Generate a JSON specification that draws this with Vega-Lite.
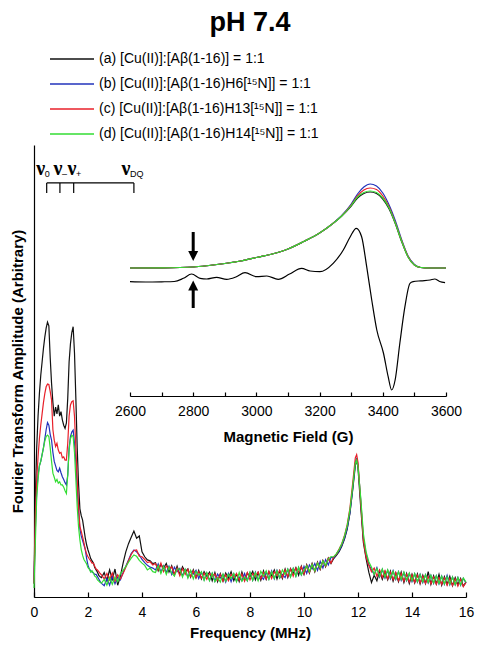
{
  "$schema": "https://vega.github.io/schema/vega-lite/v6.json",
  "width": 432,
  "height": 452,
  "autosize": "none",
  "padding": {"left": 34, "top": 145, "right": 14, "bottom": 55},
  "title": {"text": "pH 7.4", "fontSize": 27, "fontWeight": "bold", "font": "Liberation Sans", "anchor": "middle", "frame": "group", "offset": 15, "color": "black"},
  "config": {
    "font": "Liberation Sans",
    "view": {"stroke": null},
    "axis": {"domainColor": "black", "tickColor": "black", "labelColor": "black", "titleColor": "black", "grid": false, "labelFontSize": 14, "titleFontSize": 15, "titleFontWeight": "bold", "domainWidth": 1.2, "tickWidth": 1.2},
    "legend": {"orient": "none", "legendX": 14, "legendY": -93, "title": null, "symbolType": "M-1,0H7.8", "symbolSize": 100, "symbolStrokeWidth": 1.6, "labelFontSize": 14, "labelOffset": 37, "rowPadding": 11, "labelLimit": 400, "labelColor": "black"}
  },
  "datasets": {
    "spectra": [
      {"f":0,"a":3,"b":3,"c":3,"d":2},
      {"f":0.05,"a":22,"b":15,"c":18,"d":12},
      {"f":0.1,"a":33,"b":23,"c":26,"d":22},
      {"f":0.15,"a":40,"b":27,"c":31,"d":26},
      {"f":0.2,"a":45,"b":29,"c":35,"d":29},
      {"f":0.25,"a":49,"b":30,"c":38,"d":30},
      {"f":0.3,"a":52,"b":31.5,"c":40.5,"d":31.5},
      {"f":0.35,"a":55,"b":33,"c":43,"d":33},
      {"f":0.4,"a":57.5,"b":35,"c":45,"d":34.5},
      {"f":0.45,"a":59.5,"b":37,"c":46.5,"d":35.5},
      {"f":0.5,"a":60.8,"b":38.6,"c":47.1,"d":35.8},
      {"f":0.55,"a":60,"b":38,"c":47,"d":35.5},
      {"f":0.6,"a":53,"b":36,"c":45.5,"d":33},
      {"f":0.65,"a":47.3,"b":34.7,"c":43.6,"d":30},
      {"f":0.7,"a":43,"b":32,"c":37,"d":27.4},
      {"f":0.75,"a":40,"b":30,"c":34.7,"d":26.5},
      {"f":0.8,"a":42,"b":29,"c":33.3,"d":25.5},
      {"f":0.85,"a":40.5,"b":28,"c":34,"d":26},
      {"f":0.9,"a":42.5,"b":27.7,"c":32.5,"d":25.2},
      {"f":0.95,"a":40,"b":28.5,"c":31.8,"d":25.5},
      {"f":1.0,"a":41,"b":27.5,"c":32,"d":24.8},
      {"f":1.05,"a":39.2,"b":26.6,"c":30.8,"d":24.8},
      {"f":1.1,"a":38,"b":26,"c":31,"d":24.3},
      {"f":1.15,"a":37.3,"b":25.3,"c":30.3,"d":23.5},
      {"f":1.2,"a":38.5,"b":24.8,"c":30.3,"d":22.9},
      {"f":1.25,"a":44,"b":27,"c":34,"d":27},
      {"f":1.3,"a":52,"b":33,"c":40,"d":32.5},
      {"f":1.35,"a":56,"b":35.5,"c":42.5,"d":35},
      {"f":1.4,"a":58.5,"b":36.5,"c":43.2,"d":35.8},
      {"f":1.45,"a":59.8,"b":36.9,"c":43.4,"d":35.5},
      {"f":1.5,"a":54,"b":34,"c":40,"d":32},
      {"f":1.55,"a":44,"b":30,"c":33,"d":26},
      {"f":1.6,"a":33,"b":24,"c":26,"d":20},
      {"f":1.65,"a":25,"b":19,"c":20,"d":15.5},
      {"f":1.7,"a":19.5,"b":15,"c":15.6,"d":12.6},
      {"f":1.75,"a":18,"b":13.5,"c":14.5,"d":10.5},
      {"f":1.8,"a":17,"b":12.5,"c":13.3,"d":9.2},
      {"f":1.85,"a":15,"b":11.5,"c":12,"d":8.3},
      {"f":1.9,"a":13,"b":10.5,"c":10.5,"d":7.8},
      {"f":1.95,"a":11.5,"b":8.5,"c":9.5,"d":7.3},
      {"f":2.0,"a":10.4,"b":7,"c":8.9,"d":6.5},
      {"f":2.05,"a":9.5,"b":6.2,"c":8.4,"d":6.2},
      {"f":2.1,"a":8.5,"b":5.8,"c":8,"d":5.5},
      {"f":2.15,"a":8,"b":5.5,"c":7.5,"d":5.8},
      {"f":2.2,"a":7.5,"b":5.3,"c":7.5,"d":5.3},
      {"f":2.25,"a":6.5,"b":5,"c":6.8,"d":4.6},
      {"f":2.3,"a":6,"b":5,"c":6.2,"d":4.4},
      {"f":2.35,"a":5.5,"b":4.5,"c":6,"d":3.8},
      {"f":2.4,"a":4.8,"b":4,"c":5.6,"d":3.5},
      {"f":2.45,"a":4.5,"b":3.4,"c":5.2,"d":3.2},
      {"f":2.5,"a":4.3,"b":3,"c":4.9,"d":3.1},
      {"f":2.6,"a":5.4,"b":2.5,"c":4.0,"d":3.9},
      {"f":2.7,"a":3.6,"b":4.1,"c":5.2,"d":2.6},
      {"f":2.8,"a":6.0,"b":2.6,"c":3.8,"d":4.3},
      {"f":2.9,"a":3.9,"b":4.6,"c":5.3,"d":2.8},
      {"f":3.0,"a":6.2,"b":2.9,"c":3.5,"d":4.4},
      {"f":3.1,"a":2.6,"b":4.4,"c":4.9,"d":3.4},
      {"f":3.2,"a":4.6,"b":3.8,"c":4.0,"d":5.2},
      {"f":3.3,"a":7.5,"b":5.4,"c":5.2,"d":5.9},
      {"f":3.4,"a":10.0,"b":6.8,"c":6.6,"d":6.7},
      {"f":3.5,"a":11.8,"b":8.2,"c":8.0,"d":7.7},
      {"f":3.6,"a":13.2,"b":9.6,"c":9.4,"d":8.6},
      {"f":3.7,"a":14.6,"b":10.4,"c":10.3,"d":9.3},
      {"f":3.8,"a":13.0,"b":10.0,"c":10.4,"d":9.0},
      {"f":3.9,"a":13.5,"b":9.3,"c":9.0,"d":8.1},
      {"f":4.0,"a":10.0,"b":8.3,"c":8.9,"d":7.5},
      {"f":4.1,"a":8.9,"b":7.6,"c":8.3,"d":7.0},
      {"f":4.2,"a":8.2,"b":7.0,"c":7.6,"d":6.0},
      {"f":4.3,"a":8.0,"b":6.6,"c":7.8,"d":6.4},
      {"f":4.4,"a":7.4,"b":6.4,"c":7.1,"d":5.6},
      {"f":4.5,"a":7.6,"b":6.0,"c":7.4,"d":5.4},
      {"f":4.6,"a":5.8,"b":7.3,"c":6.0,"d":6.9},
      {"f":4.7,"a":7.2,"b":5.5,"c":7.5,"d":5.2},
      {"f":4.8,"a":6.4,"b":6.9,"c":5.6,"d":6.8},
      {"f":4.9,"a":7.4,"b":5.4,"c":6.9,"d":5.0},
      {"f":5.0,"a":5.5,"b":6.8,"c":6.1,"d":6.6},
      {"f":5.1,"a":6.9,"b":5.0,"c":6.7,"d":5.3},
      {"f":5.2,"a":4.9,"b":6.6,"c":5.1,"d":4.6},
      {"f":5.3,"a":6.8,"b":5.6,"c":6.4,"d":6.2},
      {"f":5.4,"a":5.0,"b":6.3,"c":4.7,"d":6.2},
      {"f":5.5,"a":6.7,"b":4.7,"c":6.3,"d":4.4},
      {"f":5.6,"a":5.6,"b":6.0,"c":5.0,"d":6.1},
      {"f":5.7,"a":6.2,"b":4.4,"c":6.1,"d":4.2},
      {"f":5.8,"a":4.4,"b":5.8,"c":4.5,"d":5.9},
      {"f":5.9,"a":6.0,"b":5.1,"c":5.8,"d":4.0},
      {"f":6.0,"a":4.2,"b":5.9,"c":4.3,"d":5.7},
      {"f":6.1,"a":5.9,"b":4.1,"c":5.6,"d":4.8},
      {"f":6.2,"a":4.0,"b":5.5,"c":4.2,"d":5.6},
      {"f":6.3,"a":5.6,"b":3.8,"c":5.3,"d":3.7},
      {"f":6.4,"a":4.6,"b":5.3,"c":3.9,"d":5.4},
      {"f":6.5,"a":5.5,"b":3.7,"c":5.2,"d":3.6},
      {"f":6.6,"a":3.6,"b":5.2,"c":4.6,"d":5.3},
      {"f":6.7,"a":5.4,"b":3.5,"c":5.1,"d":3.4},
      {"f":6.8,"a":3.4,"b":5.1,"c":3.7,"d":4.3},
      {"f":6.9,"a":5.2,"b":4.2,"c":5.0,"d":3.3},
      {"f":7.0,"a":3.5,"b":5.0,"c":3.5,"d":5.1},
      {"f":7.1,"a":5.3,"b":3.3,"c":4.9,"d":3.5},
      {"f":7.2,"a":4.2,"b":5.2,"c":3.6,"d":5.0},
      {"f":7.3,"a":5.6,"b":3.4,"c":5.0,"d":4.1},
      {"f":7.4,"a":3.6,"b":5.1,"c":4.3,"d":5.2},
      {"f":7.5,"a":5.1,"b":3.5,"c":5.2,"d":3.4},
      {"f":7.6,"a":3.4,"b":4.4,"c":3.7,"d":5.4},
      {"f":7.7,"a":5.5,"b":3.6,"c":5.1,"d":3.5},
      {"f":7.8,"a":3.7,"b":5.2,"c":3.5,"d":4.4},
      {"f":7.9,"a":5.3,"b":3.6,"c":5.4,"d":3.6},
      {"f":8.0,"a":4.5,"b":5.4,"c":3.8,"d":5.5},
      {"f":8.1,"a":5.7,"b":3.7,"c":5.2,"d":3.7},
      {"f":8.2,"a":3.8,"b":5.5,"c":4.6,"d":5.4},
      {"f":8.3,"a":5.4,"b":3.8,"c":5.5,"d":3.6},
      {"f":8.4,"a":3.7,"b":4.6,"c":4.0,"d":5.7},
      {"f":8.5,"a":5.8,"b":3.9,"c":5.4,"d":4.6},
      {"f":8.6,"a":3.9,"b":5.5,"c":4.0,"d":5.8},
      {"f":8.7,"a":5.6,"b":4.0,"c":5.7,"d":3.9},
      {"f":8.8,"a":4.7,"b":5.8,"c":4.1,"d":5.6},
      {"f":8.9,"a":6.0,"b":4.0,"c":5.6,"d":4.1},
      {"f":9.0,"a":4.0,"b":5.9,"c":4.8,"d":5.8},
      {"f":9.1,"a":5.8,"b":4.2,"c":5.9,"d":4.2},
      {"f":9.2,"a":4.1,"b":5.0,"c":4.3,"d":6.0},
      {"f":9.3,"a":6.2,"b":4.3,"c":6.0,"d":5.0},
      {"f":9.4,"a":4.3,"b":6.1,"c":4.5,"d":6.2},
      {"f":9.5,"a":6.3,"b":4.5,"c":6.2,"d":4.4},
      {"f":9.6,"a":5.2,"b":6.3,"c":4.6,"d":6.3},
      {"f":9.7,"a":6.5,"b":4.6,"c":6.4,"d":4.6},
      {"f":9.8,"a":4.8,"b":6.5,"c":5.5,"d":6.6},
      {"f":9.9,"a":6.8,"b":4.9,"c":6.7,"d":4.9},
      {"f":10.0,"a":5.0,"b":6.8,"c":5.1,"d":5.9},
      {"f":10.1,"a":7.1,"b":5.2,"c":7.0,"d":6.9},
      {"f":10.2,"a":5.3,"b":7.1,"c":5.4,"d":5.6},
      {"f":10.3,"a":7.4,"b":6.2,"c":7.3,"d":7.2},
      {"f":10.4,"a":5.6,"b":7.4,"c":5.7,"d":5.8},
      {"f":10.5,"a":7.7,"b":5.9,"c":7.6,"d":7.5},
      {"f":10.6,"a":6.1,"b":7.9,"c":6.2,"d":6.4},
      {"f":10.7,"a":8.1,"b":6.4,"c":8.0,"d":8.0},
      {"f":10.8,"a":6.7,"b":8.3,"c":6.8,"d":7.0},
      {"f":10.9,"a":8.6,"b":7.1,"c":8.6,"d":8.4},
      {"f":11.0,"a":7.4,"b":8.8,"c":7.5,"d":8.9},
      {"f":11.1,"a":8.5,"b":8.6,"c":8.9,"d":8.9},
      {"f":11.2,"a":9.2,"b":9.4,"c":9.5,"d":9.6},
      {"f":11.3,"a":10.0,"b":10.2,"c":10.6,"d":10.5},
      {"f":11.4,"a":11.2,"b":11.4,"c":11.8,"d":11.8},
      {"f":11.5,"a":12.8,"b":13.0,"c":13.6,"d":13.5},
      {"f":11.6,"a":15.0,"b":15.2,"c":16.0,"d":15.8},
      {"f":11.7,"a":18.5,"b":18.6,"c":19.6,"d":19.2},
      {"f":11.8,"a":23.5,"b":23.8,"c":25.0,"d":24.2},
      {"f":11.9,"a":29.0,"b":29.6,"c":30.8,"d":29.6},
      {"f":11.95,"a":30.5,"b":30.8,"c":31.5,"d":30.3},
      {"f":12.0,"a":28.5,"b":29.2,"c":29.8,"d":28.8},
      {"f":12.1,"a":20.0,"b":21.5,"c":21.0,"d":22.0},
      {"f":12.2,"a":12.0,"b":13.0,"c":12.5,"d":14.0},
      {"f":12.3,"a":8.5,"b":9.5,"c":8.8,"d":10.0},
      {"f":12.4,"a":5.5,"b":7.2,"c":7.0,"d":7.8},
      {"f":12.5,"a":3.2,"b":6.0,"c":5.6,"d":6.6},
      {"f":12.6,"a":4.8,"b":5.0,"c":6.4,"d":5.0},
      {"f":12.7,"a":3.6,"b":6.5,"c":4.6,"d":6.3},
      {"f":12.8,"a":5.8,"b":4.4,"c":6.0,"d":4.6},
      {"f":12.9,"a":3.9,"b":6.1,"c":4.3,"d":6.2},
      {"f":13.0,"a":5.6,"b":4.2,"c":5.8,"d":4.4},
      {"f":13.1,"a":3.8,"b":5.9,"c":4.0,"d":6.0},
      {"f":13.2,"a":5.7,"b":4.0,"c":5.5,"d":4.3},
      {"f":13.3,"a":3.5,"b":5.8,"c":3.8,"d":5.7},
      {"f":13.4,"a":5.3,"b":3.9,"c":5.4,"d":4.0},
      {"f":13.5,"a":3.4,"b":5.6,"c":3.6,"d":5.6},
      {"f":13.6,"a":5.5,"b":3.7,"c":5.2,"d":3.9},
      {"f":13.7,"a":3.2,"b":5.4,"c":3.5,"d":5.5},
      {"f":13.8,"a":5.2,"b":3.6,"c":5.0,"d":3.7},
      {"f":13.9,"a":3.0,"b":5.2,"c":3.3,"d":5.3},
      {"f":14.0,"a":5.0,"b":3.4,"c":4.9,"d":3.6},
      {"f":14.1,"a":3.1,"b":5.1,"c":3.2,"d":5.2},
      {"f":14.2,"a":5.1,"b":3.3,"c":4.8,"d":3.4},
      {"f":14.3,"a":2.9,"b":5.0,"c":3.1,"d":5.0},
      {"f":14.4,"a":4.8,"b":3.2,"c":4.6,"d":3.3},
      {"f":14.5,"a":3.0,"b":4.9,"c":3.0,"d":4.9},
      {"f":14.6,"a":5.6,"b":3.1,"c":4.5,"d":3.2},
      {"f":14.7,"a":2.8,"b":4.8,"c":2.9,"d":4.8},
      {"f":14.8,"a":4.7,"b":3.0,"c":4.4,"d":3.1},
      {"f":14.9,"a":2.9,"b":4.7,"c":2.8,"d":4.7},
      {"f":15.0,"a":5.0,"b":2.9,"c":4.3,"d":3.0},
      {"f":15.1,"a":2.6,"b":4.6,"c":2.8,"d":4.6},
      {"f":15.2,"a":4.5,"b":2.8,"c":4.2,"d":2.9},
      {"f":15.3,"a":2.8,"b":4.8,"c":2.6,"d":4.5},
      {"f":15.4,"a":4.6,"b":2.7,"c":4.1,"d":2.8},
      {"f":15.5,"a":2.5,"b":4.4,"c":2.5,"d":4.4},
      {"f":15.6,"a":4.3,"b":2.7,"c":4.0,"d":2.7},
      {"f":15.7,"a":2.7,"b":4.3,"c":2.4,"d":4.3},
      {"f":15.8,"a":4.1,"b":2.6,"c":3.9,"d":2.7},
      {"f":15.9,"a":2.4,"b":4.1,"c":2.3,"d":4.2},
      {"f":16.0,"a":3.3,"b":3.1,"c":3.2,"d":3.3}
    ],
    "absorption": [
      {"g":2600,"a":1.4,"b":1.4,"c":1.4,"d":1.4},
      {"g":2700,"a":1.42,"b":1.42,"c":1.42,"d":1.42},
      {"g":2800,"a":1.5,"b":1.5,"c":1.5,"d":1.5},
      {"g":2850,"a":1.65,"b":1.65,"c":1.65,"d":1.65},
      {"g":2900,"a":1.85,"b":1.85,"c":1.85,"d":1.85},
      {"g":2950,"a":2.1,"b":2.1,"c":2.1,"d":2.1},
      {"g":3000,"a":2.45,"b":2.45,"c":2.45,"d":2.45},
      {"g":3050,"a":2.8,"b":2.8,"c":2.8,"d":2.8},
      {"g":3100,"a":3.3,"b":3.3,"c":3.3,"d":3.3},
      {"g":3150,"a":4.05,"b":4.05,"c":4.05,"d":4.05},
      {"g":3200,"a":4.9,"b":4.9,"c":4.9,"d":4.9},
      {"g":3240,"a":5.8,"b":5.8,"c":5.8,"d":5.8},
      {"g":3270,"a":6.6,"b":6.65,"c":6.62,"d":6.6},
      {"g":3300,"a":7.6,"b":7.8,"c":7.7,"d":7.65},
      {"g":3320,"a":8.4,"b":8.8,"c":8.6,"d":8.5},
      {"g":3340,"a":8.85,"b":9.5,"c":9.2,"d":8.95},
      {"g":3360,"a":9.0,"b":9.8,"c":9.4,"d":9.1},
      {"g":3380,"a":8.85,"b":9.6,"c":9.25,"d":8.95},
      {"g":3400,"a":8.3,"b":8.9,"c":8.6,"d":8.4},
      {"g":3420,"a":7.3,"b":7.7,"c":7.5,"d":7.4},
      {"g":3440,"a":5.8,"b":6.1,"c":5.9,"d":5.85},
      {"g":3460,"a":4.0,"b":4.2,"c":4.1,"d":4.05},
      {"g":3480,"a":2.5,"b":2.6,"c":2.55,"d":2.5},
      {"g":3500,"a":1.7,"b":1.75,"c":1.7,"d":1.7},
      {"g":3520,"a":1.45,"b":1.45,"c":1.45,"d":1.45},
      {"g":3550,"a":1.4,"b":1.4,"c":1.4,"d":1.4},
      {"g":3600,"a":1.4,"b":1.4,"c":1.4,"d":1.4}
    ],
    "derivative": [
      {"g":2600,"v":0.03},{"g":2650,"v":0.0},{"g":2700,"v":0.02},{"g":2740,"v":0.05},
      {"g":2769,"v":0.37},{"g":2795,"v":0.8},{"g":2822,"v":0.37},{"g":2843,"v":0.3},
      {"g":2874,"v":0.47},{"g":2906,"v":0.27},{"g":2935,"v":0.5},{"g":2964,"v":0.93},
      {"g":3001,"v":0.53},{"g":3033,"v":0.6},{"g":3069,"v":0.27},{"g":3105,"v":0.8},
      {"g":3143,"v":1.37},{"g":3170,"v":1.1},{"g":3201,"v":1.03},{"g":3243,"v":1.87},
      {"g":3275,"v":3.2},{"g":3297,"v":4.53},{"g":3316,"v":5.37},{"g":3333,"v":4.53},
      {"g":3349,"v":1.53},{"g":3365,"v":-1.8},{"g":3381,"v":-4.8},{"g":3402,"v":-7.1},
      {"g":3417,"v":-9.47},{"g":3428,"v":-10.8},{"g":3439,"v":-9.8},{"g":3454,"v":-6.1},
      {"g":3470,"v":-2.47},{"g":3486,"v":-0.13},{"g":3496,"v":0.03},{"g":3520,"v":0.12},
      {"g":3550,"v":0.2},{"g":3564,"v":0.3},{"g":3580,"v":0.05},{"g":3597,"v":-0.07}
    ]
  },
  "layer": [
    {
      "layer": [
        {
          "data": {"name": "spectra"},
          "transform": [{"fold": ["a", "b", "c", "d"], "as": ["series", "amp"]}],
          "mark": {"type": "line", "strokeWidth": 1.2},
          "encoding": {
            "x": {"field": "f", "type": "quantitative", "scale": {"domain": [0, 16], "nice": false},
              "axis": {"title": "Frequency (MHz)", "values": [0,1,2,3,4,5,6,7,8,9,10,11,12,13,14,15,16], "labelExpr": "datum.value % 2 ? '' : datum.label", "tickSize": -5, "labelPadding": 13, "titlePadding": 6, "labelFlush": false, "labelOverlap": false}},
            "y": {"field": "amp", "type": "quantitative", "scale": {"domain": [0, 100], "nice": false},
              "axis": {"title": "Fourier Transform Amplitude (Arbitrary)", "ticks": false, "labels": false, "titlePadding": 9}},
            "color": {"field": "series", "type": "nominal",
              "scale": {"domain": ["a", "b", "c", "d"], "range": ["#111111", "#2233bb", "#e8202a", "#33dd33"]},
              "legend": {"labelExpr": "datum.value == 'a' ? '(a) [Cu(II)]:[Aβ(1-16)] = 1:1' : datum.value == 'b' ? '(b) [Cu(II)]:[Aβ(1-16)H6[¹⁵N]] = 1:1' : datum.value == 'c' ? '(c) [Cu(II)]:[Aβ(1-16)H13[¹⁵N]] = 1:1' : '(d) [Cu(II)]:[Aβ(1-16)H14[¹⁵N]] = 1:1'"}}
          }
        },
        {
          "data": {"values": [{"f": 0.47, "f2": 3.7, "amp": 91.6}]},
          "mark": {"type": "rule", "strokeWidth": 1.2, "color": "black"},
          "encoding": {"x": {"field": "f", "type": "quantitative"}, "x2": {"field": "f2"}, "y": {"field": "amp", "type": "quantitative"}}
        },
        {
          "data": {"values": [{"f": 0.47, "amp": 89.4, "amp2": 91.6}, {"f": 0.96, "amp": 89.4, "amp2": 91.6}, {"f": 1.47, "amp": 89.4, "amp2": 91.6}, {"f": 3.7, "amp": 89.4, "amp2": 91.6}]},
          "mark": {"type": "rule", "strokeWidth": 1.2, "color": "black"},
          "encoding": {"x": {"field": "f", "type": "quantitative"}, "y": {"field": "amp", "type": "quantitative"}, "y2": {"field": "amp2"}}
        },
        {
          "data": {"values": [{"f": 0.25, "amp": 93.3, "sub": "0"}, {"f": 0.89, "amp": 93.3, "sub": "–"}, {"f": 1.41, "amp": 93.3, "sub": "+"}, {"f": 3.41, "amp": 93.3, "sub": "DQ"}]},
          "layer": [
            {
              "mark": {"type": "text", "text": "ν", "font": "Liberation Serif", "fontSize": 20, "fontWeight": "bold", "baseline": "alphabetic", "align": "center", "color": "black"},
              "encoding": {"x": {"field": "f", "type": "quantitative"}, "y": {"field": "amp", "type": "quantitative"}}
            },
            {
              "mark": {"type": "text", "font": "Liberation Sans", "fontSize": 9, "baseline": "alphabetic", "align": "left", "dx": 4, "dy": 2, "color": "black"},
              "encoding": {"x": {"field": "f", "type": "quantitative"}, "y": {"field": "amp", "type": "quantitative"}, "text": {"field": "sub"}}
            }
          ]
        }
      ]
    },
    {
      "layer": [
        {
          "data": {"name": "absorption"},
          "transform": [{"fold": ["a", "b", "c", "d"], "as": ["series", "v"]}],
          "mark": {"type": "line", "strokeWidth": 1.2, "interpolate": "monotone"},
          "encoding": {
            "x": {"field": "g", "type": "quantitative", "scale": {"domain": [2600, 3600], "range": [96, 412], "nice": false},
              "axis": {"orient": "bottom", "offset": -201, "title": "Magnetic Field (G)", "values": [2600,2700,2800,2900,3000,3100,3200,3300,3400,3500,3600], "labelExpr": "datum.value % 200 ? '' : datum.label", "format": "d", "tickSize": -4, "labelPadding": 12, "titlePadding": 11, "labelFlush": false, "labelOverlap": false}},
            "y": {"field": "v", "type": "quantitative", "scale": {"domain": [-31.5, 13.7], "nice": false, "zero": false}, "axis": null},
            "color": {"field": "series", "type": "nominal"}
          }
        },
        {
          "data": {"name": "derivative"},
          "mark": {"type": "line", "strokeWidth": 1.2, "interpolate": "monotone", "color": "black"},
          "encoding": {"x": {"field": "g", "type": "quantitative"}, "y": {"field": "v", "type": "quantitative"}}
        },
        {
          "data": {"values": [{"g": 2800, "v": 5.0, "v2": 3.1, "h": 2.6, "dir": "down"}, {"g": 2800, "v": -2.6, "v2": -0.8, "h": -0.35, "dir": "up"}]},
          "layer": [
            {
              "mark": {"type": "rule", "strokeWidth": 3, "color": "black"},
              "encoding": {"x": {"field": "g", "type": "quantitative"}, "y": {"field": "v", "type": "quantitative"}, "y2": {"field": "v2"}}
            },
            {
              "mark": {"type": "point", "filled": true, "opacity": 1, "color": "black", "size": 100},
              "encoding": {"x": {"field": "g", "type": "quantitative"}, "y": {"field": "h", "type": "quantitative"},
                "shape": {"field": "dir", "type": "nominal", "scale": {"domain": ["down", "up"], "range": ["M-1,-1L1,-1L0,1Z", "M-1,1L1,1L0,-1Z"]}, "legend": null}}
            }
          ]
        }
      ]
    }
  ],
  "resolve": {"scale": {"x": "independent", "y": "independent"}, "axis": {"x": "independent", "y": "independent"}}
}
